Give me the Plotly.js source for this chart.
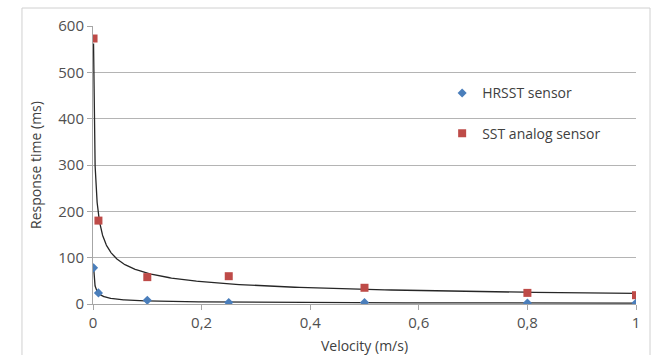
<!DOCTYPE html>
<html>
<head>
<meta charset="utf-8">
<script src="https://cdn.plot.ly/plotly-3.0.1.min.js"></script>
<style>html,body{margin:0;padding:0;background:#fff;}#chart{width:657px;height:355px;}</style>
</head>
<body>
<div id="chart"></div>
<script>
// Data
const velocity = [0.001, 0.01, 0.1, 0.25, 0.5, 0.8, 1];
const hrsstTime = [78, 24, 8, 3, 3, 2, 2];
const sstTime = [573, 180, 58, 60, 35, 24, 19];
const seriesNames = ["HRSST sensor", "SST analog sensor"];
const xTickVals = [0, 0.2, 0.4, 0.6, 0.8, 1];
const yTickVals = [0, 100, 200, 300, 400, 500, 600];

// Power trendline (least squares in log-log space), as in the spreadsheet
function powerFit(xs, ys) {
  const lx = xs.map(Math.log), ly = ys.map(Math.log);
  const n = xs.length;
  const mx = lx.reduce((a, b) => a + b, 0) / n;
  const my = ly.reduce((a, b) => a + b, 0) / n;
  let sxy = 0, sxx = 0;
  for (let i = 0; i < n; i++) { sxy += (lx[i] - mx) * (ly[i] - my); sxx += (lx[i] - mx) ** 2; }
  const b = sxy / sxx, a = Math.exp(my - b * mx);
  const tx = [], ty = [];
  const lo = Math.log(Math.min(...xs)), hi = Math.log(Math.max(...xs));
  for (let i = 0; i <= 300; i++) {
    const x = Math.exp(lo + (hi - lo) * i / 300);
    tx.push(x); ty.push(a * Math.pow(x, b));
  }
  return {x: tx, y: ty};
}
const fitH = powerFit(velocity, hrsstTime);
const fitS = powerFit(velocity, sstTime);

const data = [
  {x: fitS.x, y: fitS.y, mode: "lines", line: {color: "#262626", width: 1.3}, showlegend: false, hoverinfo: "skip"},
  {x: fitH.x, y: fitH.y, mode: "lines", line: {color: "#262626", width: 1.3}, showlegend: false, hoverinfo: "skip"},
  {x: velocity, y: hrsstTime, name: seriesNames[0], mode: "markers", legendgroup: "a",
   marker: {symbol: "diamond", size: 7, color: "#4a7ebb"}},
  {x: velocity, y: sstTime, name: seriesNames[1], mode: "markers", legendgroup: "b",
   marker: {symbol: "square", size: 8, color: "#be4b48"}}
];

const layout = {
  width: 657, height: 355,
  margin: {l: 93, r: 21, t: 26, b: 51},
  paper_bgcolor: "#fff", plot_bgcolor: "#fff",
  separators: ", ",
  font: {family: "Open Sans, sans-serif", color: "#404040"},
  xaxis: {
    range: [0, 1], tickvals: xTickVals, showgrid: false, zeroline: false,
    showline: true, linecolor: "#a6a6a6", linewidth: 1,
    ticks: "outside", ticklen: 5, tickcolor: "#a6a6a6",
    tickfont: {size: 15, color: "#505050"},
    title: {text: "Velocity (m/s)", font: {size: 14, color: "#404040"}, standoff: 10}
  },
  yaxis: {
    range: [0, 600], tickvals: yTickVals, showgrid: true, gridcolor: "#b4b4b4", gridwidth: 1,
    zeroline: false, showline: true, linecolor: "#a6a6a6", linewidth: 1,
    ticks: "outside", ticklen: 5, tickcolor: "#a6a6a6",
    tickfont: {size: 15, color: "#505050"},
    title: {text: "Response time (ms)", font: {size: 14, color: "#404040"}, standoff: 13}
  },
  legend: {
    x: 0.643, y: 0.815, xanchor: "left", yanchor: "top",
    font: {size: 14, color: "#404040"}, bgcolor: "rgba(0,0,0,0)",
    traceorder: "grouped", tracegroupgap: 19
  },
  shapes: [{
    type: "rect", xref: "paper", yref: "paper",
    x0: -0.1308, x1: 1.0258, y0: -0.3, y1: 1.0647,
    line: {color: "#d0d0d0", width: 1}, fillcolor: "rgba(0,0,0,0)", layer: "below"
  }]
};

Plotly.newPlot("chart", data, layout, {displayModeBar: false, staticPlot: true});
</script>
</body>
</html>
